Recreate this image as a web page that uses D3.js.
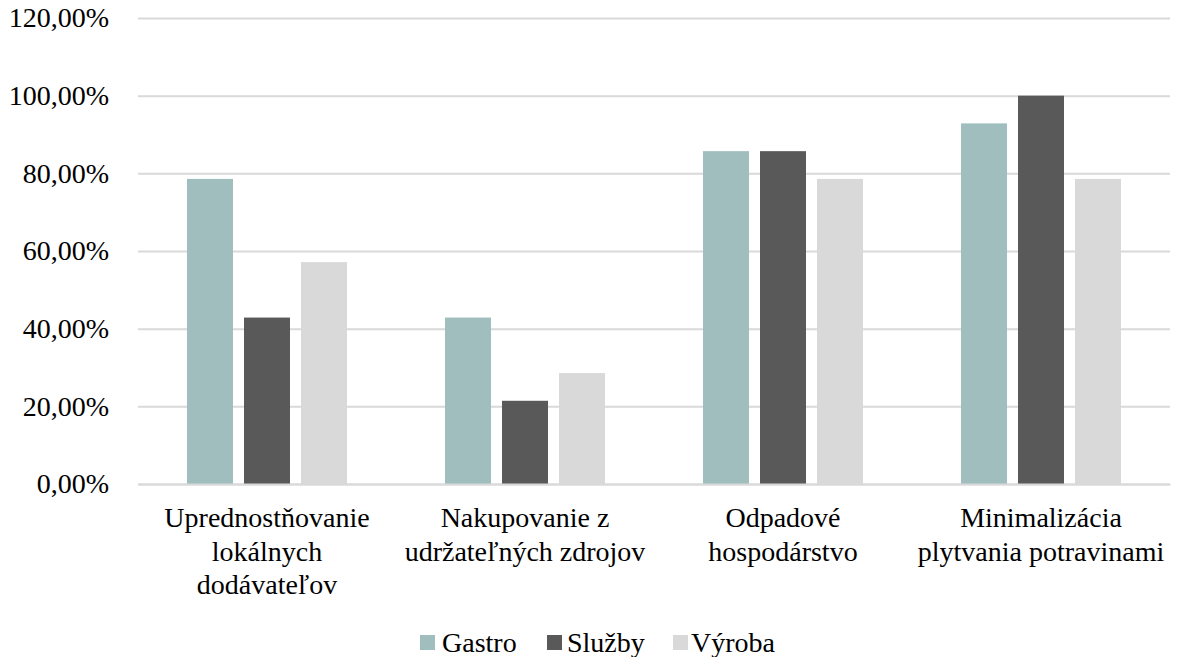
<!DOCTYPE html>
<html>
<head>
<meta charset="utf-8">
<script src="https://cdn.jsdelivr.net/npm/d3@7"></script>
<style>
  html, body { margin: 0; padding: 0; background: #fff; }
  svg { display: block; }
</style>
</head>
<body>
<svg id="chart" width="1179" height="657"></svg>
<script>
// Categories (each label split into its display lines)
const categories = [
  ["Uprednostňovanie", "lokálnych", "dodávateľov"],
  ["Nakupovanie z", "udržateľných zdrojov"],
  ["Odpadové", "hospodárstvo"],
  ["Minimalizácia", "plytvania potravinami"]
];
const seriesNames = ["Gastro", "Služby", "Výroba"];
const gastro = [78.57, 42.86, 85.71, 92.86];
const sluzby = [42.86, 21.43, 85.71, 100.0];
const vyroba = [57.14, 28.57, 78.57, 78.57];
const yTicks = [0, 20, 40, 60, 80, 100, 120];
const colors = ["#9FBEBD", "#595959", "#D9D9D9"];

const seriesValues = [gastro, sluzby, vyroba];
const FONT = "Liberation Serif";
const FONT_SIZE = "28px";
const svg = d3.select("#chart").style("font-family", FONT);

const plotLeft = 138, plotRight = 1170, plotTop = 18, plotBottom = 484;

const x0 = d3.scaleBand().domain(d3.range(categories.length)).range([plotLeft, plotRight]).padding(0);
const x1 = d3.scaleBand().domain(d3.range(seriesNames.length))
  .range([0, x0.bandwidth()]).paddingInner(0.193).paddingOuter(0.86);
const y = d3.scaleLinear().domain([0, 120]).range([plotBottom, plotTop]);

// Gridlines and y labels
const yAxis = d3.axisLeft(y).tickValues(yTicks)
  .tickSize(-(plotRight - plotLeft))
  .tickPadding(29)
  .tickFormat(d => d3.format(".2f")(d).replace(".", ",") + "%");
const gy = svg.append("g").attr("transform", `translate(${plotLeft},0)`).call(yAxis)
  .attr("font-family", null).attr("font-size", null);
gy.select(".domain").remove();
gy.selectAll(".tick line").attr("stroke", "#D9D9D9").attr("stroke-width", 2);
gy.selectAll(".tick text")
  .style("font-family", FONT).style("font-size", FONT_SIZE).attr("fill", "#000");

// Bars
const groups = svg.append("g").selectAll("g")
  .data(categories.map((c, i) => i))
  .join("g")
  .attr("transform", i => `translate(${x0(i)},0)`);
groups.selectAll("rect")
  .data(i => seriesValues.map((vals, s) => ({ s, v: vals[i] })))
  .join("rect")
  .attr("x", d => x1(d.s))
  .attr("width", x1.bandwidth())
  .attr("y", d => y(d.v))
  .attr("height", d => y(0) - y(d.v))
  .attr("fill", d => colors[d.s]);

// Baseline
const xAxis = d3.axisBottom(x0).tickSize(0).tickFormat("");
svg.append("g").attr("transform", `translate(0,${plotBottom})`).call(xAxis)
  .select(".domain").attr("stroke", "#D9D9D9").attr("stroke-width", 2);

// Category labels
const labels = svg.append("g").selectAll("text")
  .data(categories)
  .join("text")
  .attr("x", (d, i) => x0(i) + x0.bandwidth() / 2)
  .attr("y", 527)
  .attr("text-anchor", "middle")
  .attr("fill", "#000")
  .style("font-family", FONT)
  .style("font-size", FONT_SIZE);
labels.selectAll("tspan")
  .data(d => d)
  .join("tspan")
  .attr("x", function () { return d3.select(this.parentNode).attr("x"); })
  .attr("dy", (d, i) => i === 0 ? 0 : 33.5)
  .text(d => d);

// Legend
const legendItems = [
  { sq: 420, tx: 442 },
  { sq: 547, tx: 567 },
  { sq: 673, tx: 691 }
];
const legend = svg.append("g").selectAll("g")
  .data(seriesNames)
  .join("g");
legend.append("rect")
  .attr("x", (d, i) => legendItems[i].sq)
  .attr("y", 635)
  .attr("width", 15).attr("height", 15)
  .attr("fill", (d, i) => colors[i]);
legend.append("text")
  .attr("x", (d, i) => legendItems[i].tx)
  .attr("y", 652)
  .attr("fill", "#000")
  .style("font-family", FONT)
  .style("font-size", FONT_SIZE)
  .text(d => d);
</script>
</body>
</html>
